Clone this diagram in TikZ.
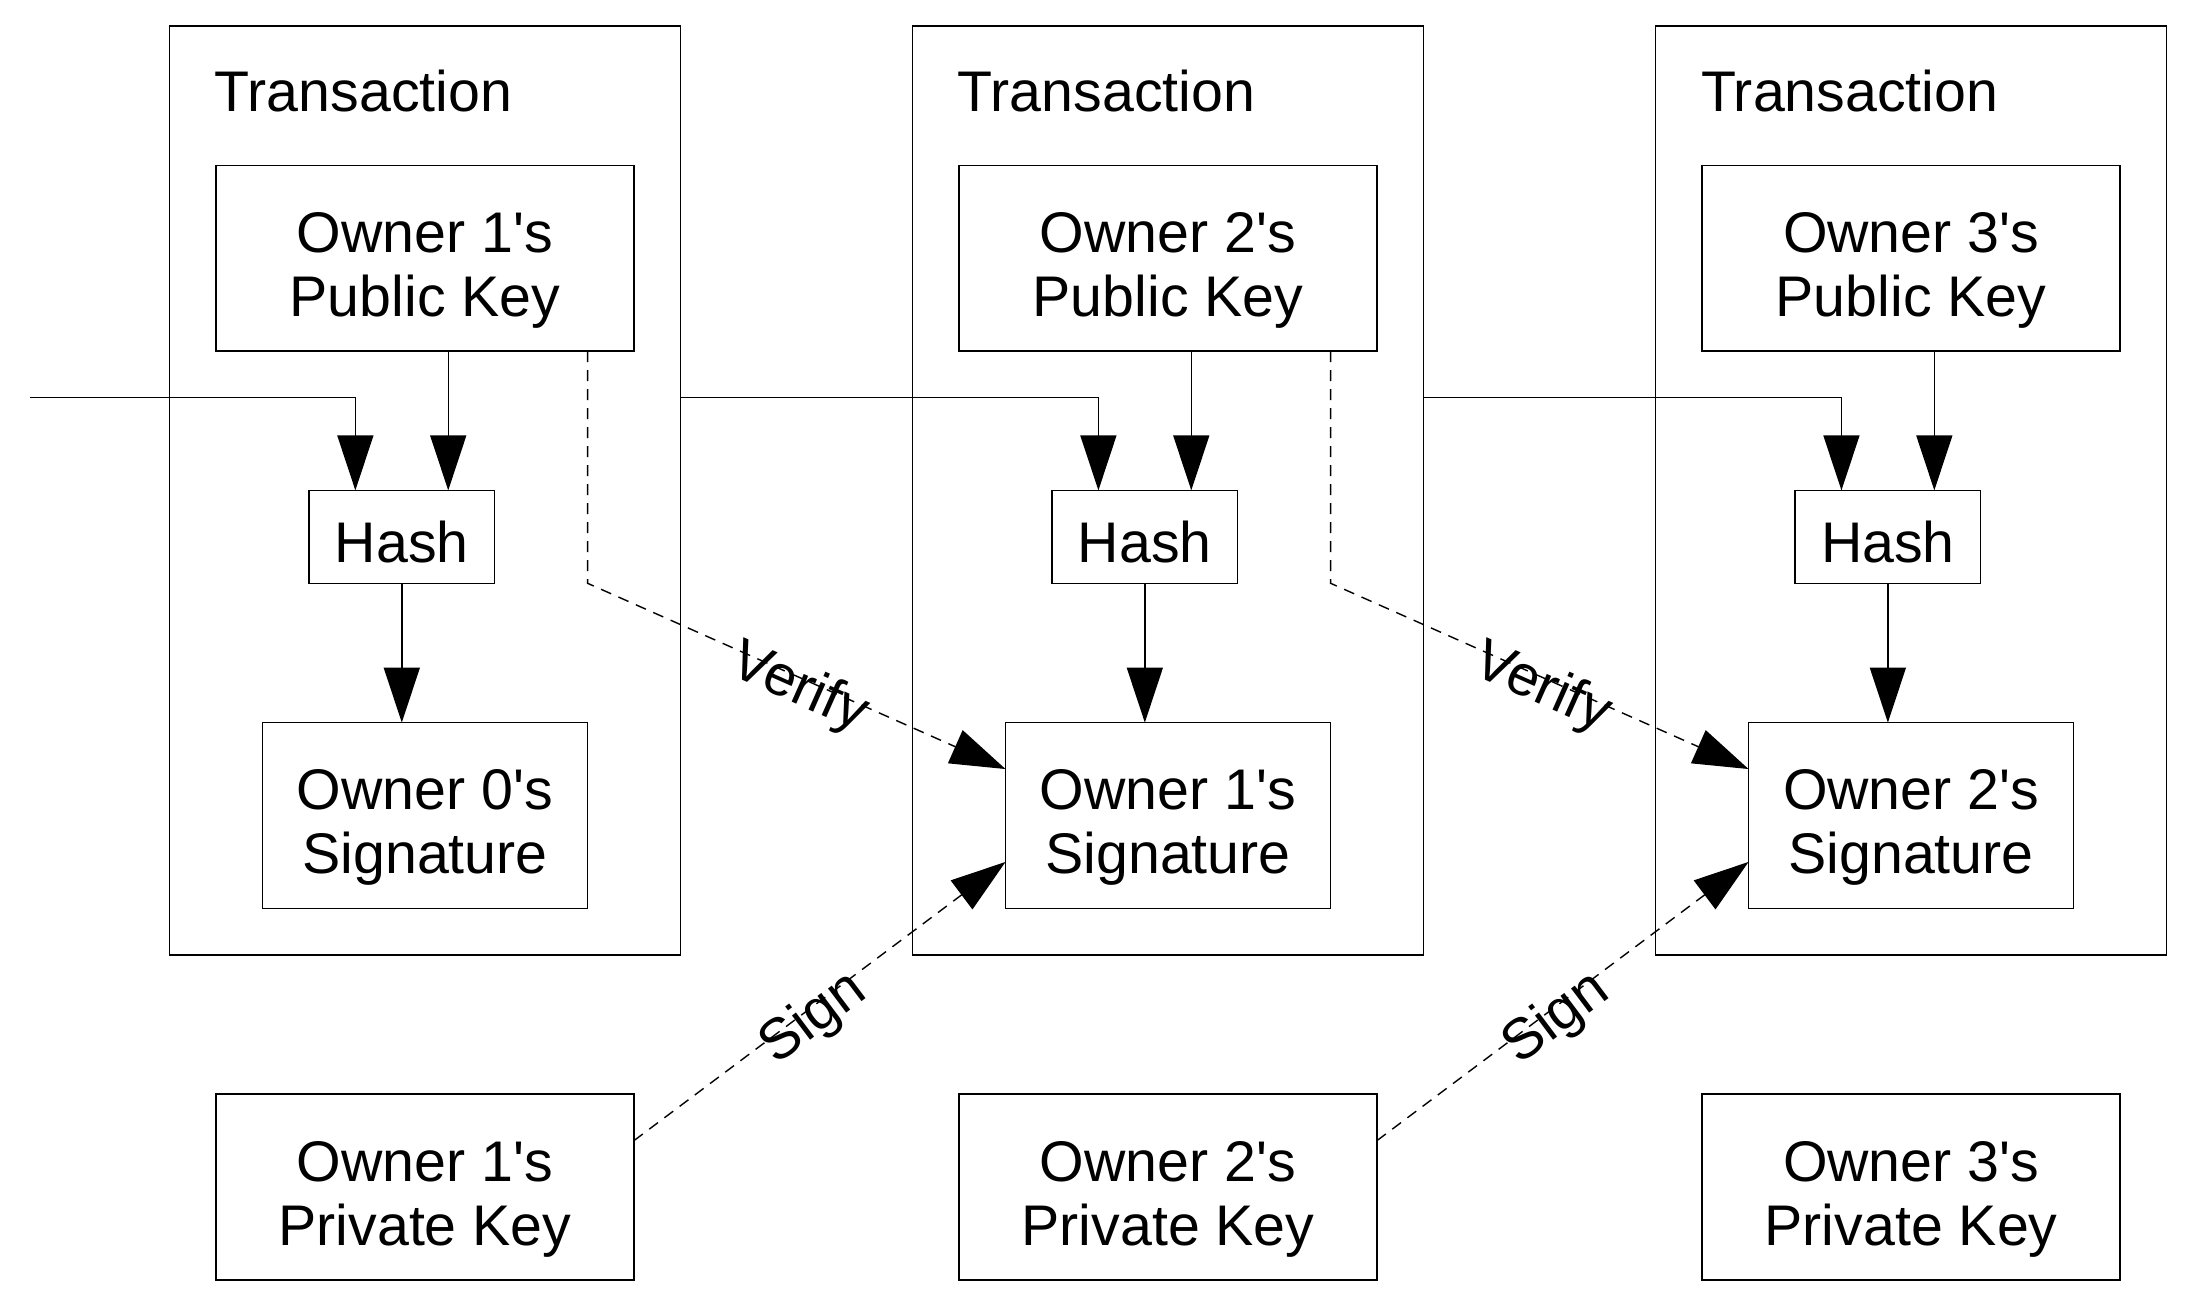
\documentclass[tikz,border=0pt]{standalone}
\usepackage{fontspec}
\setmainfont{Liberation Sans}[Ligatures=TeXOff]
\usetikzlibrary{arrows.meta,calc}
\begin{document}
\begin{tikzpicture}[x=46.44pt,y=-46.44pt,
  line width=1.4pt,
  every node/.style={inner sep=0pt, outer sep=0pt},
  frame/.style={draw, rectangle, minimum width=510.84pt, minimum height=928.8pt},
  keybox/.style={draw, rectangle, minimum width=417.96pt, minimum height=185.76pt},
  hashbox/.style={draw, rectangle, minimum width=185.76pt, minimum height=92.88pt},
  sigbox/.style={draw, rectangle, minimum width=325.08pt, minimum height=185.76pt},
  txt/.style={font=\fontsize{57.3}{64}\selectfont, align=center},
  twoline/.style={txt, yshift=-12pt},
  oneline/.style={txt, yshift=-5.5pt},
  title/.style={font=\fontsize{57.3}{64}\selectfont, anchor=base west, xshift=-1.1pt},
  lab/.style={font=\fontsize{57.3}{64}\selectfont, text height=51pt, text depth=0pt, sloped},
  arr/.style={-{Triangle[length=55pt,width=36pt]}},
  dsh/.style={dash pattern=on 11pt off 8pt},
]
\useasboundingbox (-3.652,-0.560) rectangle (43.635,27.756);

\foreach \i/\j [evaluate=\i as \x using (\i-1)*16] in {1/0,2/1,3/2} {
  \node[frame] (tx\i) at (\x+5.5,10) {};
  \node[title] (tt\i) at (\x+1,1.841) {Transaction};
  \node[keybox] (pk\i) at (\x+5.5,5) {};
  \node[twoline] (pkt\i) at (pk\i.center) {Owner \i's\\Public Key};
  \node[hashbox] (h\i) at (\x+5,11) {};
  \node[oneline] (ht\i) at (h\i.center) {Hash};
  \node[sigbox] (sig\i) at (\x+5.5,17) {};
  \node[twoline] (sigt\i) at (sig\i.center) {Owner \j's\\Signature};
  \node[keybox] (pv\i) at (\x+5.5,25) {};
  \node[twoline] (pvt\i) at (pv\i.center) {Owner \i's\\Private Key};
  \draw[arr] ($(pk\i.south)+(0.5,0)$) -- ($(h\i.north)+(1,0)$);
  \draw[arr] (h\i.south) -- (h\i.south |- sig\i.north);
}

% chain of transactions
\coordinate (in0) at (-3,8);
\draw[arr] (in0) -| ($(h1.north)+(-1,0)$);
\draw[arr] ($(tx1.east)+(0,-2)$) -| ($(h2.north)+(-1,0)$);
\draw[arr] ($(tx2.east)+(0,-2)$) -| ($(h3.north)+(-1,0)$);

% verify and sign
\foreach \i/\k in {1/2,2/3} {
  \coordinate (va\i) at ($(pk\i.south east)+(-1,0)$);
  \draw[arr,dsh] (va\i) -- (va\i |- h\i.south)
     -- node[lab, pos=0.516] (vl\i) {Verify} ($(sig\k.north west)+(0,1)$);
  \draw[arr,dsh] ($(pv\i.north east)+(0,1)$)
     -- node[lab, pos=0.467] (sl\i) {Sign} ($(sig\k.south west)+(0,-1)$);
}
\end{tikzpicture}
\end{document}
